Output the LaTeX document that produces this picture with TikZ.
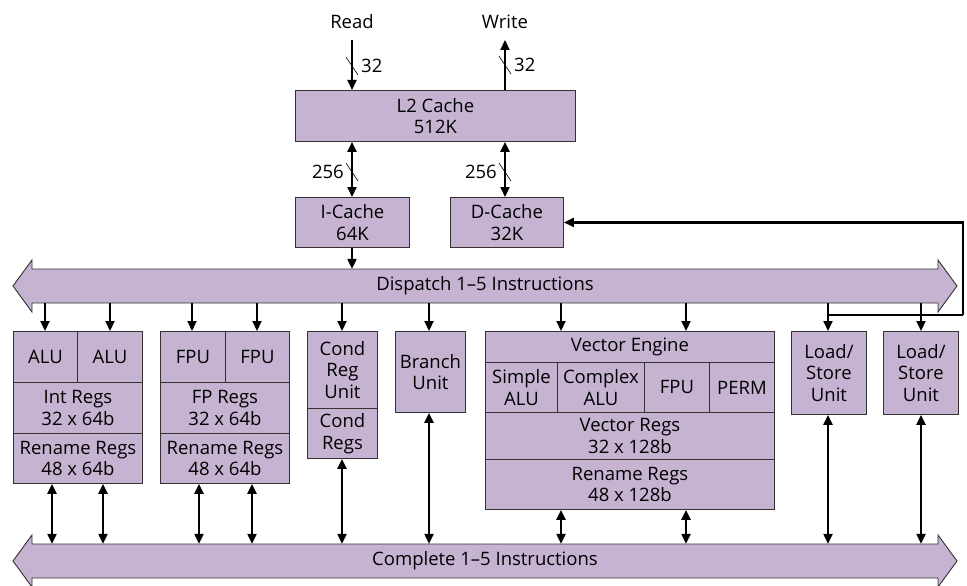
\documentclass[tikz,border=0pt]{standalone}
\usepackage{fontspec}
\setmainfont{Open Sans}
\usetikzlibrary{arrows.meta}
\definecolor{boxfill}{RGB}{197,179,209}
\definecolor{edgecol}{RGB}{50,50,50}
\begin{document}
\begin{tikzpicture}[x=1pt,y=-1pt,
  box/.style={draw=edgecol, fill=boxfill, line width=0.9pt, align=center, inner sep=0pt, anchor=north west,
    font=\fontsize{18.5}{21.5}\selectfont},
  lbl/.style={font=\fontsize{18.5}{21.5}\selectfont, inner sep=0pt},
  arr/.style={line width=2.2pt, -{Triangle[length=10pt,width=9pt]}},
  darr/.style={line width=2.2pt, {Triangle[length=10pt,width=9pt]}-{Triangle[length=10pt,width=9pt]}},
  slash/.style={line width=0.6pt},
  bar/.style={draw=edgecol, fill=boxfill, line width=0.9pt}]
\useasboundingbox (0,0) rectangle (967,586);

% top labels
\node[lbl] (read) at (352,22) {Read};
\node[lbl] (write) at (505,22) {Write};

% L2 cache
\node[box, minimum width=280pt, minimum height=51pt] (l2) at (295,90) {L2 Cache\\512K};
% caches
\node[box, minimum width=114pt, minimum height=50pt] (ic) at (295,197) {I-Cache\\64K};
\node[box, minimum width=113pt, minimum height=50pt] (dc) at (450,197) {D-Cache\\32K};

% read/write arrows
\coordinate (readend) at (352,40);
\coordinate (writeend) at (505,40);
\draw[arr] (readend) -- (readend |- l2.north);
\draw[arr] (writeend |- l2.north) -- (writeend);
\draw[slash] (346,57) -- (358,75);
\node[lbl, anchor=west] (r32) at (361,66) {32};
\draw[slash] (499,56) -- (511,74);
\node[lbl, anchor=west] (w32) at (514,65) {32};

% L2 <-> caches
\draw[darr] (ic.north -| readend) -- (l2.south -| readend);
\draw[darr] (dc.north -| writeend) -- (l2.south -| writeend);
\draw[slash] (346,163) -- (358,181);
\node[lbl, anchor=east] (i256) at (344,172) {256};
\draw[slash] (499,163) -- (511,181);
\node[lbl, anchor=east] (d256) at (497,172) {256};

% Dispatch bar
\draw[bar] (13,286) -- (32,260) -- (32,269) -- (938,269) -- (938,260) -- (957,286)
  -- (938,312) -- (938,303) -- (32,303) -- (32,312) -- cycle;
\node[lbl, minimum width=906pt, minimum height=34pt] (disp) at (485,286) {Dispatch 1--5 Instructions};
\draw[arr] (ic.south -| readend) -- (disp.north -| readend);

% Complete bar
\draw[bar] (13,561) -- (32,535) -- (32,544) -- (938,544) -- (938,535) -- (957,561)
  -- (938,587) -- (938,578) -- (32,578) -- (32,587) -- cycle;
\node[lbl, minimum width=906pt, minimum height=34pt] (comp) at (485,561) {Complete 1--5 Instructions};

% Integer group
\node[box, minimum width=64pt, minimum height=51pt] (alu1) at (13,331) {ALU};
\node[box, minimum width=65pt, minimum height=51pt] (alu2) at (77,331) {ALU};
\node[box, minimum width=129pt, minimum height=51pt] (intr) at (13,382) {Int Regs\\32 x 64b};
\node[box, minimum width=129pt, minimum height=50pt] (intrn) at (13,433) {Rename Regs\\48 x 64b};

% FP group
\node[box, minimum width=65pt, minimum height=51pt] (fpu1) at (160,331) {FPU};
\node[box, minimum width=64pt, minimum height=51pt] (fpu2) at (225,331) {FPU};
\node[box, minimum width=129pt, minimum height=51pt] (fpr) at (160,382) {FP Regs\\32 x 64b};
\node[box, minimum width=129pt, minimum height=50pt] (fprn) at (160,433) {Rename Regs\\48 x 64b};

% Cond
\node[box, minimum width=70pt, minimum height=77pt] (cru) at (307,331) {Cond\\Reg\\Unit};
\node[box, minimum width=70pt, minimum height=50pt] (crr) at (307,408) {Cond\\Regs};

% Branch
\node[box, minimum width=70pt, minimum height=81pt] (br) at (395,331) {Branch\\Unit};

% Vector engine
\node[box, minimum width=289pt, minimum height=31pt] (ve) at (485,331) {Vector Engine};
\node[box, minimum width=72pt, minimum height=50pt] (vsa) at (485,362) {Simple\\ALU};
\node[box, minimum width=87pt, minimum height=50pt] (vca) at (557,362) {Complex\\ALU};
\node[box, minimum width=65pt, minimum height=50pt] (vfp) at (644,362) {FPU};
\node[box, minimum width=65pt, minimum height=50pt] (vpm) at (709,362) {PERM};
\node[box, minimum width=289pt, minimum height=47pt] (vr) at (485,412) {Vector Regs\\32 x 128b};
\node[box, minimum width=289pt, minimum height=50pt] (vrn) at (485,459) {Rename Regs\\48 x 128b};

% Load/Store
\node[box, minimum width=75pt, minimum height=83pt] (ls1) at (791,331) {Load/\\Store\\Unit};
\node[box, minimum width=75pt, minimum height=83pt] (ls2) at (883,331) {Load/\\Store\\Unit};

% dispatch -> units
\foreach \n/\x in {alu1/45, alu2/110, fpu1/192, fpu2/257, cru/342, br/429, ve/561, ve/686, ls1/828, ls2/921}{
  \draw[arr] (disp.south -| \x,0) -- (\n.north -| \x,0);
}

% units <-> complete
\foreach \n/\x in {intrn/52, intrn/103, fprn/199, fprn/252, crr/342, br/429, vrn/561, vrn/686, ls1/828, ls2/921}{
  \draw[darr] (\n.south -| \x,0) -- (comp.north -| \x,0);
}

% feedback to D-cache
\coordinate (fbr) at (963,315);
\coordinate (fbl) at (828,315);
\draw[line width=2.2pt] (fbl) -- (fbr);
\draw[arr] (fbr) -- (fbr |- dc.east) -- (dc.east);
\end{tikzpicture}
\end{document}
